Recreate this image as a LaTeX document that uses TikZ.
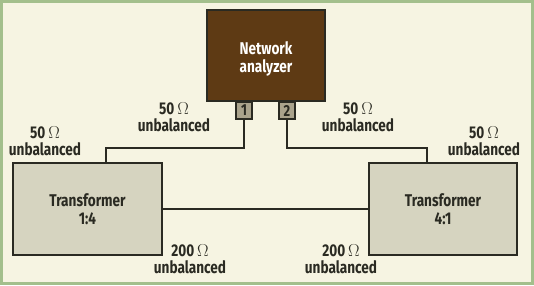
\documentclass[tikz,border=0pt]{standalone}
\usepackage{fontspec}
\setmainfont[FakeStretch=0.8]{Fira Sans}
\definecolor{bg}{HTML}{F6F4E2}
\definecolor{frame}{HTML}{A3BF8C}
\definecolor{brown}{HTML}{5E3A14}
\definecolor{tbox}{HTML}{D6D4C0}
\definecolor{port}{HTML}{AAA38C}
\definecolor{ink}{HTML}{2A2A22}
\tikzset{
  lab/.style={align=center, font=\fontsize{17}{17.5}\selectfont\bfseries, text=ink, inner sep=0pt},
  tbx/.style={draw=ink, line width=1.6pt, fill=tbox},
  wire/.style={draw=ink, line width=1.3pt},
}
\begin{document}
\begin{tikzpicture}[x=1pt,y=-1pt]
\useasboundingbox (0,0) rectangle (534,285);
\fill[bg] (0,0) rectangle (534,285);
\draw[frame, line width=3pt] (1.5,1.5) rectangle (532.5,283.5);
% network analyzer
\draw[draw=ink, line width=1.6pt, fill=brown] (207,10) rectangle (325,101);
\node[lab, text=white] (na) at (266,59) {Network\\analyzer};
% ports
\draw[draw=ink, line width=1.2pt, fill=port] (236,102) rectangle (252,119);
\node[lab, font=\fontsize{16}{16}\selectfont\bfseries] (p1) at (244,110.5) {1};
\draw[draw=ink, line width=1.2pt, fill=port] (279,102) rectangle (295,119);
\node[lab, font=\fontsize{16}{16}\selectfont\bfseries] (p2) at (287,110.5) {2};
\coordinate (p1b) at (244,119);
\coordinate (p2b) at (287,119);
% transformers
\draw[tbx] (13,163) rectangle (162,255);
\node[lab] (t1) at (87.5,209) {Transformer\\1:4};
\draw[tbx] (369,163) rectangle (517,255);
\node[lab] (t2) at (443,209) {Transformer\\4:1};
\coordinate (t1top) at (106,163);
\coordinate (t2top) at (427,163);
\coordinate (t1r) at (162,209);
\coordinate (t2l) at (369,209);
% wires
\draw[wire] (p1b) |- (106,148) -- (t1top);
\draw[wire] (p2b) |- (427,148) -- (t2top);
\draw[wire] (t1r) -- (t2l);
% labels
\node[lab] (l1) at (174,117) {50\,$\Omega$\\unbalanced};
\node[lab] (l2) at (45,141) {50\,$\Omega$\\unbalanced};
\node[lab] (l3) at (358,117) {50\,$\Omega$\\unbalanced};
\node[lab] (l4) at (484,141) {50\,$\Omega$\\unbalanced};
\node[lab] (l5) at (190,259) {200\,$\Omega$\\unbalanced};
\node[lab] (l6) at (341,259) {200\,$\Omega$\\unbalanced};
\end{tikzpicture}
\end{document}
